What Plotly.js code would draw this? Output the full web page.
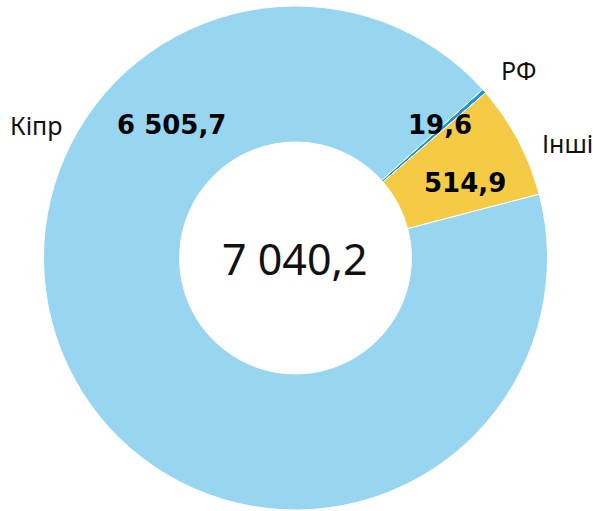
<!DOCTYPE html>
<html><head><meta charset="utf-8">
<script src="https://cdn.plot.ly/plotly-3.0.1.min.js"></script>
<style>html,body{margin:0;padding:0;background:#fff}</style>
</head><body><div id="chart" style="width:593px;height:511px"></div>
<script>
const categories = ["РФ", "Інші", "Кіпр"];
const values = [19.6, 514.9, 6505.7];
const valueLabels = ["19,6", "514,9", "6 505,7"];
const totalLabel = "7 040,2";
const colors = ["#1B98D1", "#F5CA45", "#98D5F0"];

const W = 593, H = 511;
// label positions in pixels (layout only)
const namePos = [[518, 70], [567, 143], [36, 125]];
const valPos = [[440, 125], [465, 183], [171, 125]];

const px = x => x / W, py = y => 1 - y / H;
const ann = [];
categories.forEach((c, i) => {
  ann.push({text: c, x: px(namePos[i][0]), y: py(namePos[i][1]), xref: 'paper', yref: 'paper',
    xanchor: 'center', yanchor: 'middle',
    showarrow: false, font: {family: 'Noto Sans', size: 25, color: '#111'}});
  ann.push({text: '<b>' + valueLabels[i] + '</b>', x: px(valPos[i][0]), y: py(valPos[i][1]), xref: 'paper', yref: 'paper',
    xanchor: 'center', yanchor: 'middle',
    showarrow: false, font: {family: 'DejaVu Sans', size: 26, color: '#000'}});
});
ann.push({text: totalLabel, x: px(295), y: py(258), xref: 'paper', yref: 'paper', showarrow: false,
  xanchor: 'center', yanchor: 'middle',
  font: {family: 'Noto Sans', size: 43, color: '#111'}});

Plotly.newPlot('chart', [{
  type: 'pie', labels: categories, values: values, sort: false, direction: 'clockwise',
  rotation: 48, hole: 0.46, textinfo: 'none', hoverinfo: 'none',
  marker: {colors: colors, line: {color: '#fff', width: 1}},
  domain: {x: [43.5 / W, 547.5 / W], y: [1 / H, 505 / H]}
}], {
  width: W, height: H, margin: {l: 0, r: 0, t: 0, b: 0}, showlegend: false,
  paper_bgcolor: '#fff', annotations: ann
}, {displayModeBar: false, staticPlot: true});
</script></body></html>
